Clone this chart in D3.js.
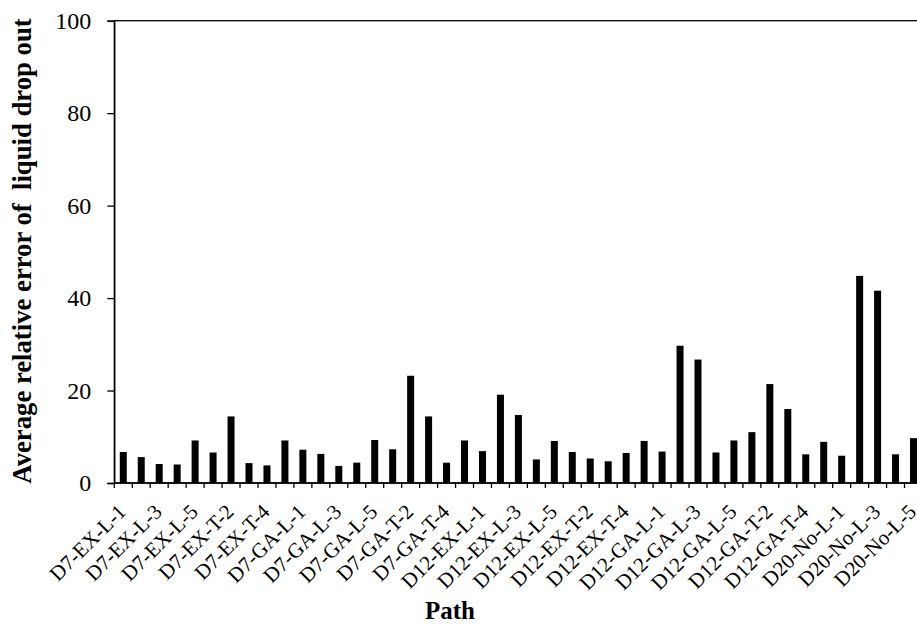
<!DOCTYPE html>
<html>
<head>
<meta charset="utf-8">
<script src="https://cdn.jsdelivr.net/npm/d3@7"></script>
<style>
	body { margin: 0; background: #fff; }
</style>
</head>
<body>
<script>
var paths = [
	'D7-EX-L-1', 'D7-EX-L-2', 'D7-EX-L-3', 'D7-EX-L-4', 'D7-EX-L-5',
	'D7-EX-T-1', 'D7-EX-T-2', 'D7-EX-T-3', 'D7-EX-T-4', 'D7-EX-T-5',
	'D7-GA-L-1', 'D7-GA-L-2', 'D7-GA-L-3', 'D7-GA-L-4', 'D7-GA-L-5',
	'D7-GA-T-1', 'D7-GA-T-2', 'D7-GA-T-3', 'D7-GA-T-4', 'D7-GA-T-5',
	'D12-EX-L-1', 'D12-EX-L-2', 'D12-EX-L-3', 'D12-EX-L-4', 'D12-EX-L-5',
	'D12-EX-T-1', 'D12-EX-T-2', 'D12-EX-T-3', 'D12-EX-T-4', 'D12-EX-T-5',
	'D12-GA-L-1', 'D12-GA-L-2', 'D12-GA-L-3', 'D12-GA-L-4', 'D12-GA-L-5',
	'D12-GA-T-1', 'D12-GA-T-2', 'D12-GA-T-3', 'D12-GA-T-4', 'D12-GA-T-5',
	'D20-No-L-1', 'D20-No-L-2', 'D20-No-L-3', 'D20-No-L-4', 'D20-No-L-5'
];

var errors = [
	6.7, 5.6, 4.1, 4.0, 9.2,
	6.6, 14.4, 4.3, 3.8, 9.2,
	7.2, 6.3, 3.7, 4.4, 9.3,
	7.3, 23.2, 14.4, 4.4, 9.2,
	6.9, 19.1, 14.7, 5.1, 9.1,
	6.7, 5.3, 4.7, 6.5, 9.1,
	6.8, 29.7, 26.7, 6.6, 9.2,
	11.0, 21.4, 16.0, 6.2, 8.9,
	5.9, 44.8, 41.6, 6.2, 9.7
];

var yTicks = [0, 20, 40, 60, 80, 100];

var yTitle = 'Average relative error of \u00a0liquid drop out';
var xTitle = 'Path';

var serif = '"Liberation Serif", "Times New Roman", Times, serif';

function renderCanvas(h, w) {
	var svg = d3.select('body')
		.append('svg')
		.attr('height', h)
		.attr('width', w)
		.attr('font-family', serif);
	return svg;
}

function renderChart() {
	var w = 917, h = 624;
	var left = 114.3, right = 922.5, top = 20.7, bottom = 483;

	var svg = renderCanvas(h, w);

	var x = d3.scaleBand()
		.domain(paths)
		.range([left, right]);

	var step = x.step();

	var y = d3.scaleLinear()
		.domain([0, 100])
		.range([bottom, top]);

	// frame (top + left, right side runs off the page)
	svg.append('rect')
		.attr('x', left)
		.attr('y', top)
		.attr('width', right - left)
		.attr('height', bottom - top)
		.attr('fill', 'none')
		.attr('stroke', '#000')
		.attr('stroke-width', 1.3);

	svg.selectAll('rect.bar')
		.data(errors)
		.enter()
		.append('rect')
		.attr('class', 'bar')
		.attr('x', function(d, i) {
			return x(paths[i]) + (step - 7) / 2;
		})
		.attr('width', 7)
		.attr('y', function(d) { return y(d); })
		.attr('height', function(d) { return bottom - y(d); })
		.attr('fill', '#000');

	// y axis
	var yAxis = d3.axisLeft(y)
		.tickValues(yTicks)
		.tickSize(7)
		.tickPadding(16);

	svg.append('g')
		.attr('transform', 'translate(' + left + ',0)')
		.call(yAxis)
		.call(function(g) {
			g.attr('font-family', serif);
			g.select('.domain').attr('stroke-width', 1.3);
			g.selectAll('.tick line').attr('stroke-width', 1.3);
			g.selectAll('.tick text')
				.attr('font-size', 24)
				.attr('fill', '#000');
		});

	// x axis: ticks on category boundaries
	var bounds = d3.range(paths.length + 1);
	svg.append('g')
		.selectAll('line')
		.data(bounds)
		.enter()
		.append('line')
		.attr('x1', function(d) { return left + d * step; })
		.attr('x2', function(d) { return left + d * step; })
		.attr('y1', bottom)
		.attr('y2', bottom + 5)
		.attr('stroke', '#000')
		.attr('stroke-width', 1.3);

	svg.append('line')
		.attr('x1', left)
		.attr('x2', right)
		.attr('y1', bottom)
		.attr('y2', bottom)
		.attr('stroke', '#000')
		.attr('stroke-width', 1.5);

	svg.append('g')
		.selectAll('text')
		.data(paths.filter(function(d, i) { return i % 2 === 0; }))
		.enter()
		.append('text')
		.attr('transform', function(d) {
			var cx = x(d) + step / 2;
			return 'translate(' + (cx + 4) + ',' + (bottom + 30) + ') rotate(-45)';
		})
		.attr('text-anchor', 'end')
		.attr('font-size', 21)
		.attr('fill', '#000')
		.text(function(d) { return d; });

	svg.append('text')
		.attr('transform', 'translate(31,251) rotate(-90)')
		.attr('text-anchor', 'middle')
		.attr('font-size', 26.7)
		.attr('font-weight', 'bold')
		.attr('fill', '#000')
		.text(yTitle);

	svg.append('text')
		.attr('x', 450)
		.attr('y', 619)
		.attr('text-anchor', 'middle')
		.attr('font-size', 25)
		.attr('font-weight', 'bold')
		.attr('fill', '#000')
		.text(xTitle);
}

renderChart();
</script>
</body>
</html>
